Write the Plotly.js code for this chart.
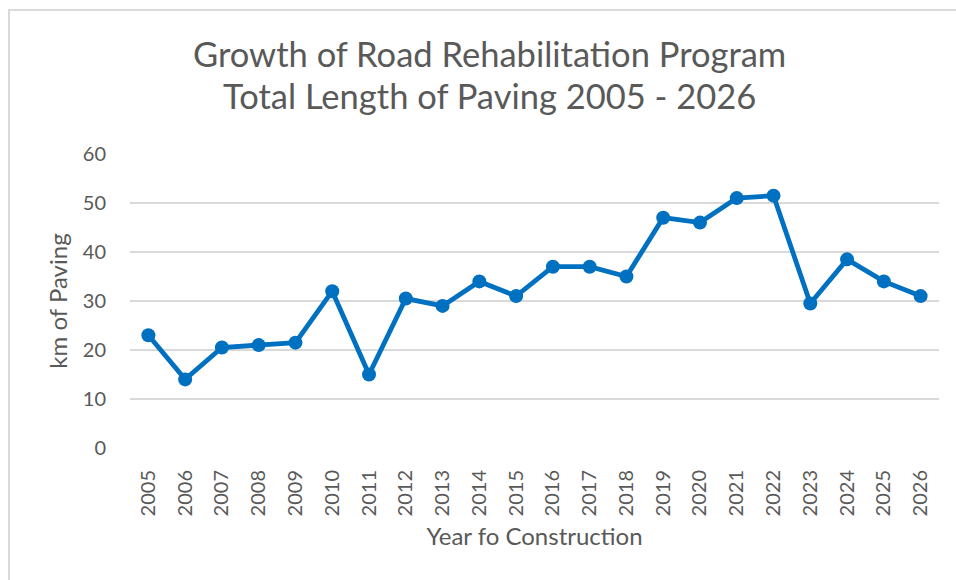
<!DOCTYPE html>
<html>
<head>
<meta charset="utf-8">
<script src="https://cdn.plot.ly/plotly-3.0.1.min.js"></script>
<style>
  html, body { margin: 0; padding: 0; background: #fff; }
  #wrap { position: relative; width: 956px; height: 580px; }
  #chart { position: absolute; left: 0; top: 0; width: 956px; height: 580px; }
  #frame { position: absolute; left: 8px; top: 9px; width: 948px; height: 571px;
           border-left: 2px solid #d9d9d9; border-top: 2px solid #d9d9d9; pointer-events: none; }
</style>
</head>
<body>
<div id="wrap">
  <div id="chart"></div>
  <div id="frame"></div>
</div>
<script>
const years = ["2005","2006","2007","2008","2009","2010","2011","2012","2013","2014","2015",
               "2016","2017","2018","2019","2020","2021","2022","2023","2024","2025","2026"];
const kmPaving = [23, 14, 20.5, 21, 21.5, 32, 15, 30.5, 29, 34, 31,
                  37, 37, 35, 47, 46, 51, 51.5, 29.5, 38.5, 34, 31];
const titleLines = ["Growth of Road Rehabilitation Program", "Total Length of Paving 2005 - 2026"];
const xTitle = "Year fo Construction";
const yTitle = "km of Paving";

const FONT = "Lato, 'Open Sans', sans-serif";
const TXT = "#595959";

const trace = {
  x: years, y: kmPaving, type: "scatter", mode: "lines+markers",
  line: { color: "#0070C0", width: 4.8 },
  marker: { color: "#0070C0", size: 14 },
  hoverinfo: "x+y"
};

const titleY = [1.3435, 1.1990];
const annotations = titleLines.map((t, i) => ({
  text: t, xref: "paper", yref: "paper", x: 0.4444, y: titleY[i],
  xanchor: "center", yanchor: "middle", showarrow: false,
  font: { family: FONT, size: 34.5, color: TXT }
}));

const layout = {
  width: 956, height: 580,
  margin: { l: 130, r: 17, t: 154, b: 132 },
  paper_bgcolor: "#fff", plot_bgcolor: "#fff",
  showlegend: false,
  font: { family: FONT, color: TXT },
  annotations: annotations,
  xaxis: {
    type: "category",
    range: [-0.5, 21.5],
    tickangle: -90,
    tickfont: { family: FONT, size: 20, color: TXT },
    ticks: "outside", ticklen: 13, tickcolor: "rgba(0,0,0,0)",
    showgrid: false, zeroline: false, showline: false,
    title: { text: xTitle, font: { family: FONT, size: 24, color: TXT }, standoff: 12 }
  },
  yaxis: {
    range: [0, 60], dtick: 10,
    tickfont: { family: FONT, size: 20, color: TXT },
    ticks: "outside", ticklen: 19, tickcolor: "rgba(0,0,0,0)",
    gridcolor: "#d9d9d9", gridwidth: 2,
    zeroline: false, showline: false,
    title: { text: yTitle, font: { family: FONT, size: 24, color: TXT }, standoff: 8 }
  }
};

Plotly.newPlot("chart", [trace], layout, { displayModeBar: false, responsive: false });
</script>
</body>
</html>
